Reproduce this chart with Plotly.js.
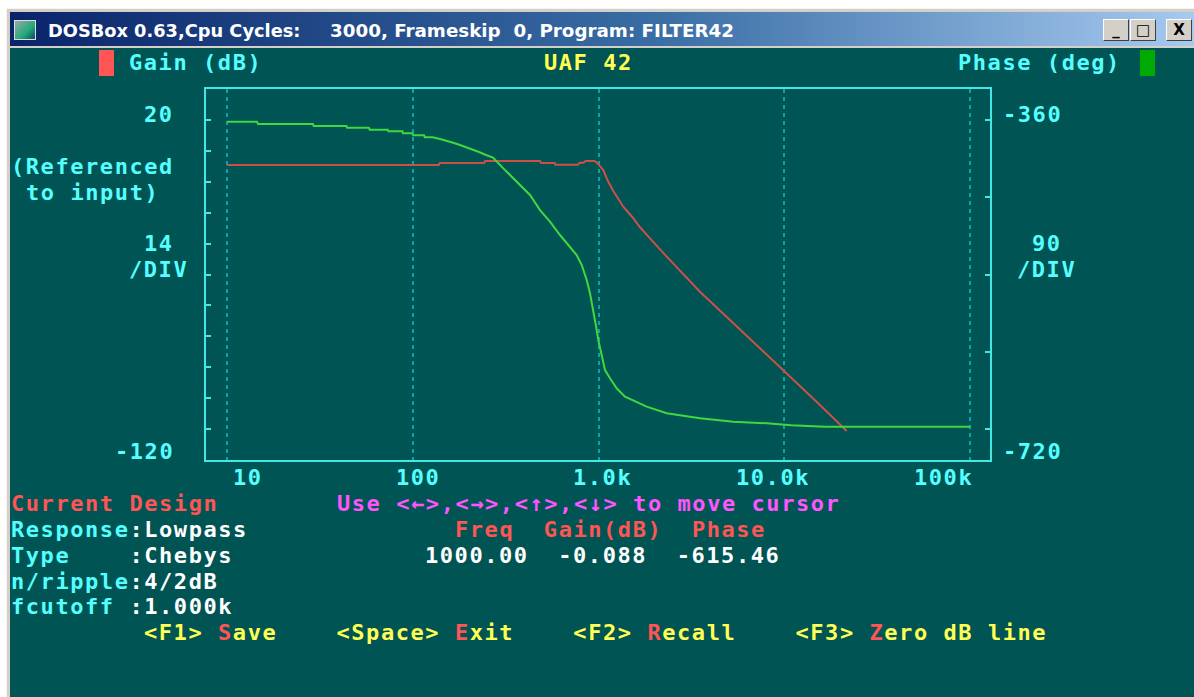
<!DOCTYPE html>
<html>
<head>
<meta charset="utf-8">
<script src="https://cdn.plot.ly/plotly-3.0.1.min.js"></script>
<style>
  html,body{margin:0;padding:0;width:1194px;height:697px;overflow:hidden;background:#ffffff;}
  #frame{position:absolute;left:6px;top:8px;width:1188px;height:689px;background:#d4d0c8;border-left:1px solid #f4f4f4;border-top:1px solid #f4f4f4;}
  #titlebar{position:absolute;left:10px;top:12px;width:1184px;height:34px;background:linear-gradient(to right,#0a246a 0%,#3a6ea5 55%,#a6caf0 100%);}
  #icon{position:absolute;left:14px;top:20px;width:20px;height:18px;background:linear-gradient(135deg,#9aa 0%,#2a7 60%,#146 100%);border:1px solid #ddd;}
  .btn{position:absolute;top:19px;width:24px;height:20px;background:#d4d0c8;border:1px solid;border-color:#ffffff #404040 #404040 #ffffff;font:bold 15px 'DejaVu Sans',sans-serif;color:#000;text-align:center;line-height:20px;}
  #plot{position:absolute;left:0;top:0;width:1194px;height:697px;}
</style>
</head>
<body>
<div id="frame"></div>
<div id="titlebar"></div>
<div id="icon"></div>
<div class="btn" style="left:1103px;">_</div>
<div class="btn" style="left:1130px;">&#9633;</div>
<div class="btn" style="left:1166px;">X</div>
<div id="plot"></div>
<script>
// ---------------- data ----------------
const gainFreq = [10, 138, 140, 242, 245, 484, 490, 580, 585, 772, 790, 830, 850, 956, 990, 1060, 1106, 1128, 1200, 1358, 1537, 1671, 1891, 2326, 3513, 5309, 6529, 9865, 15545, 21640];
const gainDb   = [-0.4, -0.4, 0.5, 0.5, 1.4, 1.4, 0.5, 0.5, -0.3, -0.3, 0.6, 0.6, 1.4, 1.4, 0.2, -2.65, -6.4, -8.0, -12.2, -19.3, -24.5, -28.6, -33.6, -41.9, -57.8, -72.1, -78.9, -93.3, -109.1, -120.9];

const phaseFreq = [10, 14.5, 14.7, 29, 29.3, 44, 44.3, 58, 58.6, 73.3, 73.8, 88, 88.5, 99.5, 100.5, 115, 116, 128, 141.8, 154.7, 166.6, 179.5, 193.3, 210.9, 227.2, 247.7, 270.2, 306.9, 362.4, 427.4, 483.9, 547.5, 619.7, 701.8, 762.2, 811, 862.9, 898.9, 936.5, 977, 996.3, 1039.2, 1082.6, 1151.7, 1251.4, 1387.4, 1603.2, 1815, 2326, 3513, 5309, 8031, 10880, 16438, 100000];
const phaseDeg  = [-362.0, -362.0, -364.7, -364.7, -367.0, -367.0, -369.0, -369.0, -371.3, -371.3, -373.2, -373.2, -375.5, -375.5, -377.8, -377.8, -380.2, -380.2, -382.5, -384.5, -386.8, -389.1, -391.5, -394.1, -397.3, -400.8, -403.9, -416.3, -431.9, -447.4, -464.9, -478.5, -494.0, -507.6, -517.3, -528.9, -546.4, -561.9, -581.4, -604.7, -616.3, -635.8, -651.3, -660.9, -672.6, -682.4, -688.2, -694.0, -701.7, -707.5, -711.5, -713.4, -715.7, -717.3, -717.3];

const xTickVals  = [10, 100, 1000, 10000, 100000];
const xTickText  = ["10", "100", "1.0k", "10.0k", "100k"];
const gainTicks  = [20, 6, -8, -22, -36, -50, -64, -78, -92, -106, -120];
const phaseTicks = [-360, -450, -540, -630, -720];

const cursorFreq  = 1000.00;
const cursorGain  = -0.088;
const cursorPhase = -615.46;

const designResponse = "Lowpass";
const designType     = "Chebys";
const designRipple   = "4/2dB";
const designCutoff   = "1.000k";

// ---------------- layout helpers ----------------
const L = 206, T = 89, W = 784, H = 371;
const px = x => (x - L) / W;
const py = y => (T + H - y) / H;
const CELL_W = 14.8;
const cellX = c => 10 + c * CELL_W;
const rowY  = r => 48 + 25.93 * (r + 0.5) + 1.5;

const CYAN = '#55ffff', YEL = '#ffff55', RED = '#ff5555', MAG = '#ff55ff', WHT = '#ffffff';
const MONO = 'DejaVu Sans Mono';
const MONO_SIZE = 22;

function esc(s) {
  return s.replace(/&/g, '&amp;').replace(/</g, '&lt;').replace(/>/g, '&gt;').replace(/ /g, '\u00a0');
}
const sp = (s, c) => '<span style="color:' + c + '">' + esc(s) + '</span>';

const annotations = [];
function put(col, row, html, color) {
  annotations.push({
    xref: 'paper', yref: 'paper', x: px(cellX(col)), y: py(rowY(row)),
    xanchor: 'left', yanchor: 'middle', align: 'left', showarrow: false, borderpad: 0,
    text: html,
    font: {family: MONO, size: MONO_SIZE, color: color, weight: 'bold'}
  });
}
const txt = (col, row, s, color) => put(col, row, esc(s), color);

// header row
txt(8, 0, 'Gain (dB)', CYAN);
txt(36, 0, 'UAF 42', YEL);
txt(64, 0, 'Phase (deg)', CYAN);
// left axis labels
txt(9, 2, String(gainTicks[0]), CYAN);
txt(0, 4, '(Referenced', CYAN);
txt(1, 5, 'to input)', CYAN);
txt(9, 7, String(gainTicks[0] - gainTicks[1]), CYAN);
txt(8, 8, '/DIV', CYAN);
txt(7, 15, String(gainTicks[gainTicks.length - 1]), CYAN);
// right axis labels
txt(67, 2, String(phaseTicks[0]), CYAN);
txt(69, 7, String(phaseTicks[0] - phaseTicks[1]), CYAN);
txt(68, 8, '/DIV', CYAN);
txt(67, 15, String(phaseTicks[phaseTicks.length - 1]), CYAN);
// x tick labels
const xLabelCols = [15, 26, 38, 49, 61];
xTickText.forEach((t, i) => txt(xLabelCols[i], 16, t, CYAN));
// info block
txt(0, 17, 'Current Design', RED);
txt(22, 17, 'Use <\u2190>,<\u2192>,<\u2191>,<\u2193> to move cursor', MAG);
put(0, 18, sp('Response', CYAN) + sp(':' + designResponse, WHT), CYAN);
txt(30, 18, 'Freq  Gain(dB)  Phase', RED);
put(0, 19, sp('Type    ', CYAN) + sp(':' + designType, WHT), CYAN);
txt(28, 19, cursorFreq.toFixed(2) + '  ' + cursorGain.toFixed(3) + '  ' + cursorPhase.toFixed(2), WHT);
put(0, 20, sp('n/ripple', CYAN) + sp(':' + designRipple, WHT), CYAN);
put(0, 21, sp('fcutoff ', CYAN) + sp(':' + designCutoff, WHT), CYAN);
put(9, 22, sp('<F1> ', YEL) + sp('S', RED) + sp('ave    <Space> ', YEL) + sp('E', RED) +
           sp('xit    <F2> ', YEL) + sp('R', RED) + sp('ecall    <F3> ', YEL) + sp('Z', RED) + sp('ero dB line', YEL), YEL);

// window title (DOSBox caption)
annotations.push({xref:'paper', yref:'paper', x:px(47), y:py(30), xanchor:'left', yanchor:'middle', align:'left', showarrow:false, borderpad:0,
  text:'DOSBox 0.63,Cpu Cycles:', font:{family:'DejaVu Sans', size:17.8, color:'#ffffff', weight:'bold'}});
annotations.push({xref:'paper', yref:'paper', x:px(329), y:py(30), xanchor:'left', yanchor:'middle', align:'left', showarrow:false, borderpad:0,
  text:'3000, Frameskip \u00a00, Program: FILTER42', font:{family:'DejaVu Sans', size:18.3, color:'#ffffff', weight:'bold'}});

const TEAL = '#005453';
const shapes = [
  {type:'rect', xref:'paper', yref:'paper', x0:px(10), x1:px(1194), y0:py(697), y1:py(48), fillcolor:TEAL, line:{width:0}, layer:'below'},
  // legend colour blocks
  {type:'rect', xref:'paper', yref:'paper', x0:px(99), x1:px(114), y0:py(76), y1:py(50), fillcolor:'#ff5555', line:{width:0}},
  {type:'rect', xref:'paper', yref:'paper', x0:px(1140), x1:px(1155), y0:py(76), y1:py(50), fillcolor:'#00aa00', line:{width:0}},
  // cursor marker
  {type:'line', xref:'x', yref:'paper', x0:Math.log10(cursorFreq), x1:Math.log10(cursorFreq), y0:0, y1:0.05, line:{color:'#ff44ff', width:3}}
];

const FRAME = '#45e6e6';
const traces = [
  {x: gainFreq, y: gainDb, type:'scatter', mode:'lines', yaxis:'y', line:{color:'#cd5048', width:2}, hoverinfo:'skip', name:'Gain (dB)'},
  {x: phaseFreq, y: phaseDeg, type:'scatter', mode:'lines', yaxis:'y2', line:{color:'#3fd83f', width:2}, hoverinfo:'skip', name:'Phase (deg)'}
];

const layout = {
  width: 1194, height: 697,
  margin: {l: L, r: 1194 - L - W, t: T, b: 697 - T - H, pad: 0},
  paper_bgcolor: 'rgba(0,0,0,0)', plot_bgcolor: TEAL,
  showlegend: false, hovermode: false,
  xaxis: {type:'log', range:[0.887, 5.1066], tickvals: xTickVals, ticktext: xTickText, showticklabels:false, ticks:'',
          showgrid:true, gridcolor:'#00a8a8', gridwidth:2, griddash:'4px,4px', zeroline:false,
          showline:true, mirror:true, linecolor:FRAME, linewidth:2, fixedrange:true},
  yaxis: {range:[-134.05, 34.05], tickvals: gainTicks, showticklabels:false, ticks:'inside', ticklen:5, tickwidth:2, tickcolor:FRAME,
          showgrid:false, zeroline:false, showline:true, mirror:true, linecolor:FRAME, linewidth:2, fixedrange:true},
  yaxis2: {range:[-756.1, -323.9], overlaying:'y', side:'right', tickvals: phaseTicks, showticklabels:false, ticks:'inside', ticklen:5, tickwidth:2, tickcolor:FRAME,
          showgrid:false, zeroline:false, showline:false, fixedrange:true},
  shapes: shapes,
  annotations: annotations
};

Plotly.newPlot('plot', traces, layout, {displayModeBar:false, staticPlot:true}).then(gd => {
  // widen the monospace text to the 14.8px DOS character cell
  const extra = (CELL_W - MONO_SIZE * 0.602).toFixed(2) + 'px';
  gd.querySelectorAll('text.annotation-text').forEach(t => {
    if ((t.style.fontFamily || '').indexOf('Mono') >= 0) t.style.letterSpacing = extra;
  });
});
</script>
</body>
</html>
